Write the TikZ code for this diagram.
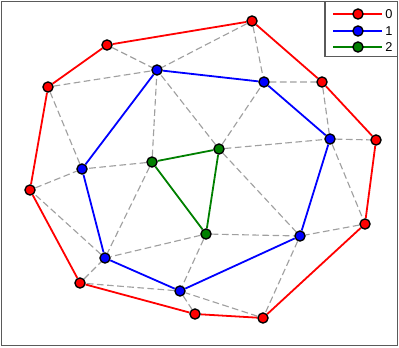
\documentclass[tikz,border=0pt]{standalone}
\usepackage{fontspec}
\setmainfont{Liberation Sans}
\usepackage{xcolor}
\usetikzlibrary{backgrounds}

\definecolor{meshgray}{RGB}{160,160,160}
\definecolor{framegray}{RGB}{90,90,90}
\definecolor{darkgreen}{RGB}{0,128,0}

\tikzset{
  mesh/.style={meshgray, line width=0.85pt, dash pattern=on 5pt off 2.6pt},
  ring/.style={line width=1.35pt},
  dot/.style={circle, draw=black, line width=1pt, inner sep=0pt, minimum size=7.6pt},
  dot0/.style={dot, fill=red},
  dot1/.style={dot, fill=blue},
  dot2/.style={dot, fill=darkgreen},
}

\begin{document}
\begin{tikzpicture}[x=0.75pt, y=-0.75pt]
  \useasboundingbox (0,0) rectangle (399,347);

  % Frame
  \draw[framegray, line width=1pt] (1.5,1.5) rectangle (397.5,345.5);

  % Outer ring (0)
  \node[dot0] (r1) at (107,45) {};
  \node[dot0] (r2) at (252,21) {};
  \node[dot0] (r3) at (322,82) {};
  \node[dot0] (r4) at (376,140) {};
  \node[dot0] (r5) at (365,224) {};
  \node[dot0] (r6) at (263,318) {};
  \node[dot0] (r7) at (195,314) {};
  \node[dot0] (r8) at (80,283) {};
  \node[dot0] (r9) at (30,190) {};
  \node[dot0] (r10) at (48,87) {};

  % Middle ring (1)
  \node[dot1] (b1) at (157,70) {};
  \node[dot1] (b2) at (264,82) {};
  \node[dot1] (b3) at (330,139) {};
  \node[dot1] (b4) at (300,236) {};
  \node[dot1] (b5) at (180,291) {};
  \node[dot1] (b6) at (105,258) {};
  \node[dot1] (b7) at (82,169) {};

  % Inner ring (2)
  \node[dot2] (g1) at (152,162) {};
  \node[dot2] (g2) at (219,149) {};
  \node[dot2] (g3) at (206,234) {};

  \begin{scope}[on background layer]
    % Triangulation edges
    \draw[mesh] (r1) -- (b1) (r10) -- (b1) (r2) -- (b1) (r2) -- (b2)
      (b2) -- (r3) (r3) -- (b3) (b3) -- (r4) (b3) -- (r5) (r5) -- (b4)
      (b4) -- (r6) (r6) -- (b5) (b5) -- (r7) (b5) -- (r8) (r8) -- (b6)
      (b6) -- (r9) (r9) -- (b7) (b7) -- (r10);
    \draw[mesh] (g1) -- (b1) (g1) -- (b7) (g1) -- (b6)
      (g2) -- (b1) (g2) -- (b2) (g2) -- (b3) (g2) -- (b4)
      (g3) -- (b4) (g3) -- (b5) (g3) -- (b6);

    % Rings
    \draw[ring, red] (r1) -- (r2) -- (r3) -- (r4) -- (r5) -- (r6) -- (r7)
      -- (r8) -- (r9) -- (r10) -- (r1);
    \draw[ring, blue] (b1) -- (b2) -- (b3) -- (b4) -- (b5) -- (b6) -- (b7) -- (b1);
    \draw[ring, darkgreen] (g1) -- (g2) -- (g3) -- (g1);
  \end{scope}

  % Legend
  \draw[framegray, fill=white, line width=1pt] (325,1.5) rectangle (397.5,56.5);
  \coordinate (l0a) at (333,14);
  \coordinate (l0b) at (382,14);
  \coordinate (l1a) at (333,31);
  \coordinate (l1b) at (382,31);
  \coordinate (l2a) at (333,47);
  \coordinate (l2b) at (382,47);
  \draw[ring, red] (l0a) -- (l0b);
  \draw[ring, blue] (l1a) -- (l1b);
  \draw[ring, darkgreen] (l2a) -- (l2b);
  \node[dot0] (k0) at (358,14) {};
  \node[dot1] (k1) at (358,31) {};
  \node[dot2] (k2) at (358,47) {};
  \node[anchor=west, inner sep=0pt, font=\fontsize{9.6}{11}\selectfont] (t0) at (385,14.5) {0};
  \node[anchor=west, inner sep=0pt, font=\fontsize{9.6}{11}\selectfont] (t1) at (385,31.5) {1};
  \node[anchor=west, inner sep=0pt, font=\fontsize{9.6}{11}\selectfont] (t2) at (385,47.5) {2};
\end{tikzpicture}
\end{document}
